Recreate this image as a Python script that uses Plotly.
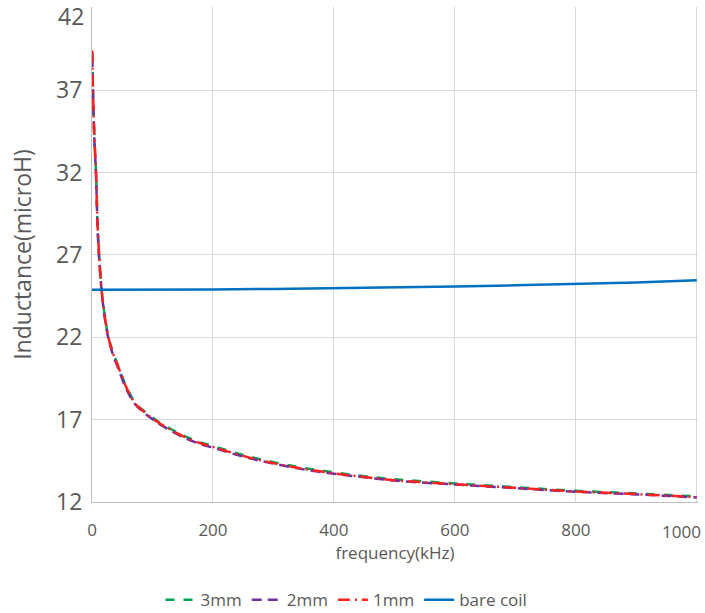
import plotly.graph_objects as go

freq_khz = [0.5, 1.6, 4, 6.6, 9, 11.6, 16, 21, 27, 35, 43.5, 55, 71, 85, 99, 115, 132, 150, 175, 200,
            250, 300, 350, 400, 450, 500, 600, 700, 800, 900, 1000]
L_3mm = [39.2, 37.0, 34.0, 32.0, 29.0, 27.0, 24.85, 23.35, 22.05, 21.05, 20.25, 19.15, 18.05, 17.55, 17.15,
         16.75, 16.4, 16.05, 15.67, 15.4, 14.85, 14.42, 14.07, 13.8, 13.57, 13.38, 13.13, 12.9, 12.68, 12.52, 12.34]
L_2mm = [39.0, 36.9, 33.9, 31.9, 28.9, 26.9, 24.75, 23.2, 21.95, 20.9, 20.1, 19.0, 17.95, 17.45, 17.05,
         16.65, 16.3, 15.95, 15.57, 15.3, 14.75, 14.33, 13.98, 13.72, 13.5, 13.3, 13.06, 12.84, 12.62, 12.46, 12.28]
L_1mm = [39.4, 37.1, 34.1, 32.1, 29.1, 27.1, 24.8, 23.3, 22.0, 21.0, 20.2, 19.1, 18.0, 17.5, 17.1,
         16.7, 16.35, 16.0, 15.62, 15.34, 14.8, 14.36, 14.01, 13.74, 13.52, 13.32, 13.08, 12.86, 12.64, 12.48, 12.3]

bare_freq_khz = [0, 100, 200, 300, 400, 500, 600, 700, 800, 900, 1000]
L_bare = [24.88, 24.88, 24.9, 24.93, 24.97, 25.03, 25.08, 25.15, 25.22, 25.32, 25.45]

x_ticks = [0, 200, 400, 600, 800, 1000]
y_ticks = [12, 17, 22, 27, 32, 37, 42]

FONT = "Open Sans"
GRAY = "#595959"

fig = go.Figure()
fig.add_trace(go.Scatter(x=freq_khz, y=L_3mm, name="3mm", mode="lines",
                         line=dict(color="#00a650", width=2.5, dash="dash", shape="spline")))
fig.add_trace(go.Scatter(x=freq_khz, y=L_2mm, name="2mm", mode="lines",
                         line=dict(color="#7030a0", width=2.5, dash="10px,6px", shape="spline")))
fig.add_trace(go.Scatter(x=freq_khz, y=L_1mm, name="1mm", mode="lines",
                         line=dict(color="#ff2020", width=2.5, dash="12px,5px,2px,5px", shape="spline")))
fig.add_trace(go.Scatter(x=bare_freq_khz, y=L_bare, name="bare coil", mode="lines",
                         line=dict(color="#0070c0", width=2.5)))

# edge tick labels are nudged inward in the reference
y_ticktext = [str(v) for v in y_ticks]
y_ticktext[-1] = ""
fig.add_annotation(x=0, xref="paper", xanchor="right", xshift=-6,
                   y=y_ticks[-1], yref="y", yanchor="middle", yshift=-8,
                   text=str(y_ticks[-1]), showarrow=False,
                   font=dict(size=23, color=GRAY, family=FONT))
x_ticktext = [str(v) for v in x_ticks]
x_ticktext[-1] = ""
fig.add_annotation(x=x_ticks[-1], xref="x", xanchor="right", xshift=6,
                   y=0, yref="paper", yanchor="middle", yshift=-29,
                   text=str(x_ticks[-1]), showarrow=False,
                   font=dict(size=17, color=GRAY, family=FONT))

fig.update_layout(
    width=705, height=613,
    paper_bgcolor="white", plot_bgcolor="white",
    margin=dict(l=92, r=7, t=7, b=111, autoexpand=False),
    font=dict(family=FONT, color=GRAY),
    legend=dict(orientation="h", x=0.42, xanchor="center", y=-0.162, yanchor="top",
                font=dict(size=17, color=GRAY), itemwidth=30, tracegroupgap=0),
    showlegend=True,
)
fig.update_xaxes(
    range=[0, 1002], tickvals=x_ticks, ticktext=x_ticktext,
    showgrid=True, gridcolor="#d9d9d9", gridwidth=1,
    showline=True, linecolor="#bfbfbf", linewidth=1,
    tickfont=dict(size=17, color=GRAY), ticks="", ticklabelstandoff=13,
    title=dict(text="frequency(kHz)", font=dict(size=17, color=GRAY), standoff=4),
    zeroline=False, automargin=False,
)
fig.update_yaxes(
    range=[12, 42.04], tickvals=y_ticks, ticktext=y_ticktext,
    showgrid=True, gridcolor="#d9d9d9", gridwidth=1,
    showline=True, linecolor="#bfbfbf", linewidth=1,
    tickfont=dict(size=23, color=GRAY), ticks="", ticklabelstandoff=4,
    title=dict(text="Inductance(microH)", font=dict(size=23, color=GRAY), standoff=18),
    zeroline=False, automargin=False,
)

fig.write_html("out.html", config={"displayModeBar": False},
               post_script="document.body.style.margin='0';")
